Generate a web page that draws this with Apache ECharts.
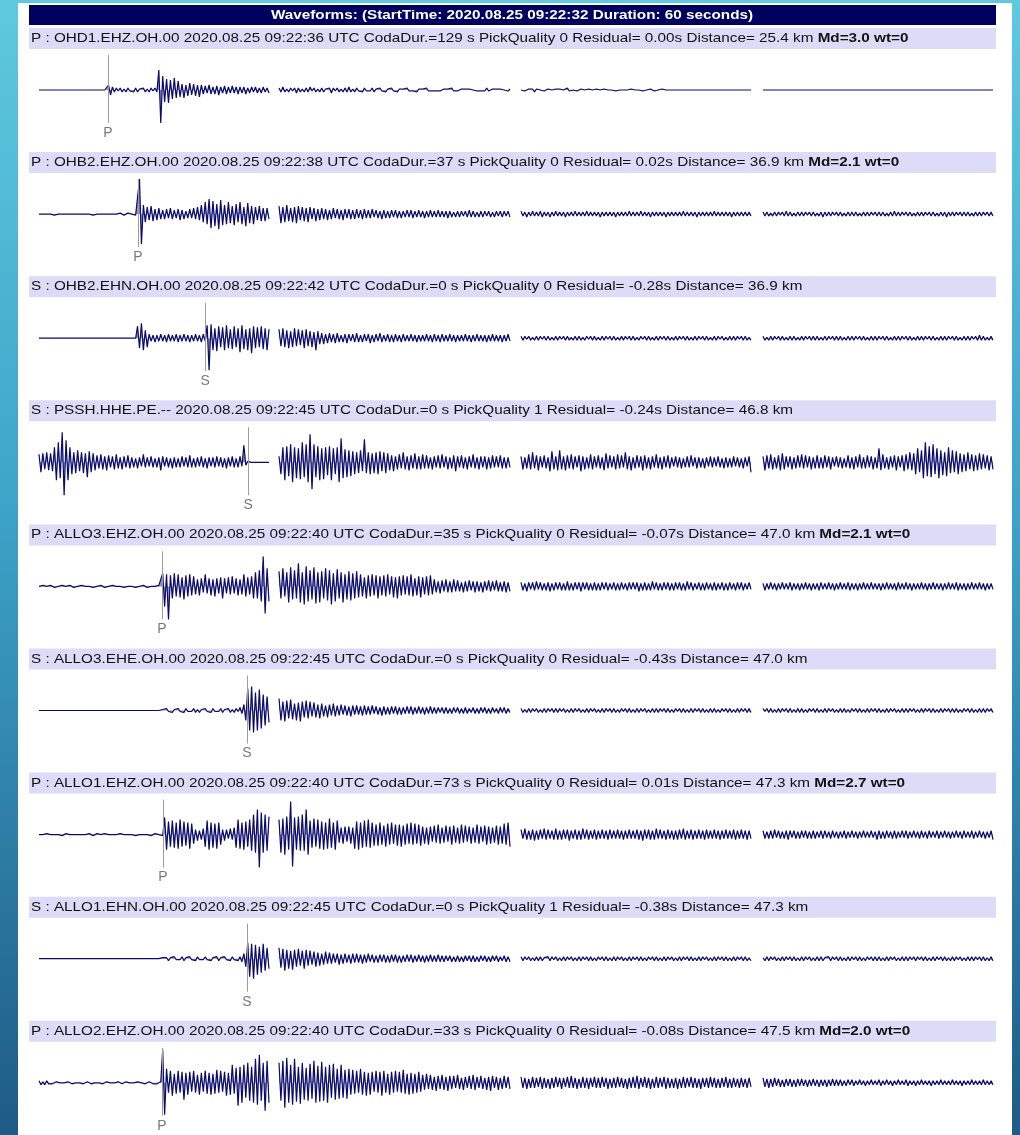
<!DOCTYPE html>
<html>
<head>
<meta charset="utf-8">
<script src="https://cdn.jsdelivr.net/npm/echarts@6/dist/echarts.min.js"></script>
<style>
  html, body { margin: 0; padding: 0; width: 1020px; height: 1135px; overflow: hidden; }
  #chart { width: 1020px; height: 1135px; }
</style>
</head>
<body>
<div id="chart"></div>
<script>
// Event waveform review: 60 s window, nine picked channels.
const START_DATE = '2020.08.25';
const START_CLOCK = '09:22:32';
const DURATION = 60;          // seconds
const DT = 0.125;             // sample interval, seconds
const PANEL_SECONDS = 15;     // each trace is drawn as four 15 s panels

const channels   = ['OHD1.EHZ.OH.00', 'OHB2.EHZ.OH.00', 'OHB2.EHN.OH.00', 'PSSH.HHE.PE.--', 'ALLO3.EHZ.OH.00',
                    'ALLO3.EHE.OH.00', 'ALLO1.EHZ.OH.00', 'ALLO1.EHN.OH.00', 'ALLO2.EHZ.OH.00'];
const phases     = ['P', 'P', 'S', 'S', 'P', 'S', 'P', 'S', 'P'];
const pickClock  = ['09:22:36', '09:22:38', '09:22:42', '09:22:45', '09:22:40', '09:22:45', '09:22:40', '09:22:45', '09:22:40'];
const codaDur    = [129, 37, 0, 0, 35, 0, 73, 0, 33];
const pickQual   = [0, 0, 0, 1, 0, 0, 0, 1, 0];
const residuals  = ['0.00', '0.02', '-0.28', '-0.24', '-0.07', '-0.43', '0.01', '-0.38', '-0.08'];
const distances  = ['25.4', '36.9', '36.9', '46.8', '47.0', '47.0', '47.3', '47.3', '47.5'];
const magnitudes = ['3.0', '2.1', null, null, '2.1', null, '2.7', null, '2.0'];
// pick times in seconds after window start
const pickTimes  = [4.46, 6.40, 10.74, 13.52, 7.95, 13.45, 8.02, 13.45, 7.95];

// Trace samples (relative amplitude), DT apart, 480 per channel (120 per panel)
const OHD1_EHZ = [
  0,0,0,0,0,0,0,0,0,0,0,0,0,0,0,0,0,0,0,0,0,0,0,0,0,0,0,0,0,0,0,0,0,0,0,0,5,-5,3,-2,
  2,-1,2,-2,1,-2,2,-1,1,-2,2,-2,1,-1,2,-2,1,-2,2,-1,2,-2,20,-33,14,-12,11,-13,10,-9,12,-8,9,-7,6,-8,5,-6,7,-5,
  6,-6,5,-7,5,-4,4,-3,5,-4,3,-4,4,-5,3,-3,4,-4,3,-3,4,-3,3,-4,3,-3,3,-4,2,-3,3,-2,3,-3,2,-3,3,-2,2,-3,
  2,-2,3,-2,1,-2,2,-1,2,-3,2,-2,1,-2,2,-2,3,-1,2,-2,1,-2,2,-2,1,-1,2,-3,2,-1,2,-2,1,-2,2,-2,3,-2,1,-2,
  2,-1,1,-2,2,-1,1,-1,2,-2,1,-1,2,-1,1,-2,1,-1,2,-1,1,-2,1,-1,1,-1,2,-1,1,-1,1,-2,1,-1,1,-1,2,-1,1,-1,
  1,-1,1,-1,0,1,-1,1,-1,2,-1,1,-1,0,1,-1,1,-1,1,-1,0,1,-1,1,-1,1,-1,2,-1,0,1,-1,1,-1,1,-1,0,1,-1,1,
  0,1,-1,0,1,-1,1,-2,1,0,0,1,-1,0,1,-1,0,0,1,-1,1,-1,0,0,2,-1,0,0,1,-1,0,1,-1,0,0,1,-1,0,0,1,
  -1,0,0,1,-1,0,0,0,1,-1,0,0,1,0,-1,0,0,1,-1,0,0,0,1,-1,0,0,0,1,0,-1,0,0,0,1,0,0,-1,0,0,0,
  0,0,0,0,0,0,0,0,0,0,0,0,0,0,0,0,0,0,0,0,0,0,0,0,0,0,0,0,0,0,0,0,0,0,0,0,0,0,0,0,
  0,0,0,0,0,0,0,0,0,0,0,0,0,0,0,0,0,0,0,0,0,0,0,0,0,0,0,0,0,0,0,0,0,0,0,0,0,0,0,0,
  0,0,0,0,0,0,0,0,0,0,0,0,0,0,0,0,0,0,0,0,0,0,0,0,0,0,0,0,0,0,0,0,0,0,0,0,0,0,0,0,
  0,0,0,0,0,0,0,0,0,0,0,0,0,0,0,0,0,0,0,0,0,0,0,0,0,0,0,0,0,0,0,0,0,0,0,0,0,0,0,0
];
const OHB2_EHZ = [
  0,0,0,0,0,0,0,1,-1,0,0,0,0,0,0,0,0,0,0,0,0,0,0,0,0,0,0,1,-1,0,0,0,0,0,0,0,0,0,0,0,
  0,0,1,0,-1,0,1,-1,0,1,-1,1,35,-30,9,-8,7,-6,8,-7,5,-6,6,-5,4,-5,5,-4,6,-5,4,-4,5,-6,4,-5,3,-4,5,-4,
  6,-5,7,-6,9,-8,12,-10,15,-14,13,-12,10,-15,14,-11,9,-10,12,-9,8,-11,10,-8,12,-10,7,-12,11,-9,8,-10,7,-6,8,-7,6,-7,6,-5,
  8,-9,7,-8,9,-7,6,-8,7,-9,8,-6,7,-7,6,-8,7,-5,6,-7,5,-6,6,-5,5,-6,4,-5,6,-4,5,-5,4,-6,5,-4,5,-5,4,-5,
  5,-4,4,-5,5,-4,4,-4,5,-3,4,-4,3,-5,4,-4,3,-4,4,-3,4,-4,3,-4,3,-3,4,-3,4,-4,3,-3,4,-3,3,-4,3,-3,4,-3,
  3,-3,4,-3,3,-3,3,-4,3,-3,2,-3,3,-3,3,-2,3,-3,4,-3,3,-3,2,-3,3,-3,3,-2,3,-3,2,-3,3,-2,3,-3,3,-2,3,-3,
  3,-2,2,-3,2,-2,3,-2,2,-2,3,-3,2,-2,2,-3,2,-2,3,-2,2,-2,2,-3,2,-2,2,-2,3,-2,2,-2,2,-2,3,-2,2,-2,2,-2,
  2,-3,2,-2,2,-2,2,-2,2,-3,2,-2,2,-2,2,-2,3,-2,2,-2,2,-2,3,-2,2,-2,2,-3,2,-2,2,-2,2,-2,2,-3,2,-2,2,-2,
  2,-2,2,-2,3,-2,2,-2,2,-2,2,-3,2,-2,2,-2,2,-2,2,-2,3,-2,2,-2,2,-2,2,-2,2,-3,2,-2,2,-2,2,-2,2,-2,2,-2,
  2,-2,2,-2,1,-2,2,-2,2,-1,2,-2,3,-2,2,-2,1,-2,2,-2,2,-2,2,-1,2,-2,2,-2,1,-2,2,-3,2,-2,2,-2,2,-1,2,-2,
  2,-2,1,-2,2,-2,2,-2,2,-2,1,-2,2,-2,2,-2,2,-1,2,-2,2,-2,2,-2,1,-2,2,-2,3,-2,2,-2,2,-1,2,-2,2,-2,1,-2,
  2,-2,2,-2,2,-1,2,-2,2,-2,1,-2,2,-2,2,-3,2,-2,2,-2,2,-1,2,-2,2,-2,2,-2,1,-2,2,-2,2,-2,2,-1,2,-2,2,-2
];
const OHB2_EHN = [
  0,0,0,0,0,0,0,0,0,0,0,0,0,0,0,0,0,0,0,0,0,0,0,0,0,0,0,0,0,0,0,0,0,0,0,0,0,0,0,0,
  0,0,0,0,0,0,0,0,0,0,0,12,-10,15,-12,8,-9,4,-3,3,-4,3,-3,4,-3,3,-4,4,-3,3,-3,4,-4,3,-3,4,-3,3,-4,3,
  -3,4,-3,3,-4,4,-3,13,-32,14,-12,10,-13,12,-9,11,-12,13,-10,9,-11,12,-9,10,-14,13,-11,9,-12,10,-15,12,-10,11,-9,12,-11,10,-12,9,
  9,-8,10,-9,8,-10,7,-9,10,-8,9,-7,8,-10,9,-8,7,-9,6,-12,7,-6,5,-6,4,-5,5,-4,4,-5,5,-4,3,-4,4,-5,4,-3,4,-4,
  5,-4,3,-4,4,-3,4,-5,3,-4,4,-3,5,-4,3,-3,4,-4,3,-4,4,-3,3,-4,4,-3,3,-3,4,-3,3,-4,3,-3,3,-3,4,-3,3,-4,
  4,-3,3,-4,4,-3,3,-3,4,-3,3,-4,3,-3,3,-3,4,-3,3,-4,3,-3,4,-3,3,-3,3,-4,3,-3,4,-3,3,-3,3,-4,3,-3,4,-3,
  2,-2,2,-1,2,-2,1,-2,2,-2,2,-1,2,-2,2,-2,1,-2,2,-2,2,-1,2,-2,2,-2,1,-2,2,-2,2,-2,1,-2,2,-1,2,-2,2,-2,
  1,-2,2,-2,2,-1,2,-2,2,-2,1,-2,2,-2,2,-1,2,-2,2,-2,1,-2,2,-1,2,-2,2,-2,1,-2,2,-2,2,-1,2,-2,2,-2,1,-2,
  2,-2,2,-1,2,-2,2,-2,1,-2,2,-2,2,-1,2,-2,2,-2,1,-2,2,-2,2,-1,2,-2,1,-2,2,-2,2,-2,2,-1,2,-2,2,-2,1,-2,
  2,-2,1,-2,2,-2,2,-1,2,-2,2,-2,1,-2,2,-2,2,-2,1,-2,2,-2,2,-1,2,-2,2,-2,2,-2,1,-2,2,-2,2,-1,2,-2,2,-2,
  2,-2,1,-2,2,-2,2,-2,2,-1,2,-2,2,-2,1,-2,2,-2,2,-2,2,-1,2,-2,2,-2,1,-2,2,-2,2,-2,2,-1,2,-2,2,-2,1,-2,
  2,-2,2,-2,2,-1,2,-2,2,-2,1,-2,2,-2,2,-2,2,-1,2,-2,2,-2,1,-2,2,-2,2,-2,2,-1,2,-2,3,-2,2,-2,1,-2,2,-2
];
const PSSH_HHE = [
  8,-10,9,-7,10,-8,9,-9,15,-18,20,-16,30,-33,22,-18,15,-12,10,-11,12,-9,10,-11,9,-15,11,-10,9,-8,7,-6,8,-7,6,-8,7,-5,6,-7,
  8,-6,5,-7,6,-5,7,-6,5,-5,4,-6,5,-4,8,-5,5,-4,6,-5,4,-5,5,-8,6,-4,5,-5,4,-6,5,-5,4,-5,6,-4,5,-5,7,-5,
  4,-5,5,-4,6,-5,4,-6,5,-4,5,-5,6,-4,5,-5,4,-6,5,-4,6,-5,4,-5,6,-4,17,-3,1,0,0,0,0,0,0,0,0,0,0,0,
  6,-12,15,-18,16,-14,18,-20,15,-16,14,-17,20,-15,18,-20,28,-27,18,-15,16,-18,14,-17,15,-13,16,-18,14,-12,15,-20,24,-16,13,-15,12,-14,11,-12,
  10,-11,12,-9,23,-11,10,-12,9,-11,10,-12,11,-9,10,-11,9,-8,7,-9,6,-7,8,-6,10,-7,6,-8,7,-6,9,-7,6,-7,8,-6,7,-6,5,-7,
  6,-5,7,-6,8,-5,6,-7,5,-6,7,-9,6,-5,7,-6,5,-7,6,-5,8,-6,5,-7,6,-5,6,-7,5,-6,7,-5,6,-5,7,-6,5,-6,5,-5,
  6,-7,5,-6,8,-7,10,-6,7,-8,6,-5,7,-6,5,-9,11,-7,6,-8,12,-7,6,-8,7,-6,8,-7,6,-5,7,-9,6,-7,5,-6,8,-7,6,-5,
  7,-6,5,-8,9,-6,7,-5,6,-7,8,-6,7,-5,10,-7,6,-8,5,-6,7,-5,6,-8,7,-6,5,-7,6,-5,8,-6,5,-7,6,-5,7,-6,5,-4,
  6,-5,5,-6,4,-5,6,-5,7,-4,5,-6,5,-5,4,-6,5,-4,6,-5,5,-4,6,-5,4,-6,5,-5,4,-5,6,-4,5,-5,4,-6,5,-4,6,-10,
  6,-8,7,-6,8,-7,5,-6,7,-8,9,-7,6,-5,6,-7,5,-6,7,-5,8,-6,7,-5,6,-7,5,-6,7,-6,5,-6,7,-5,6,-7,5,-4,6,-5,
  5,-6,4,-5,7,-6,5,-7,6,-5,8,-6,5,-6,7,-5,6,-7,5,-6,14,-8,8,-6,5,-7,6,-5,7,-8,6,-5,7,-9,8,-7,10,-8,9,-12,
  14,-10,12,-16,20,-14,16,-15,18,-12,14,-16,12,-13,10,-14,15,-11,12,-10,11,-12,9,-10,8,-9,10,-7,8,-9,7,-8,9,-7,8,-6,7,-8,6,-7
];
const ALLO3_EHZ = [
  0,0,1,-1,0,0,1,0,-1,0,0,0,1,-1,0,0,1,0,-1,0,0,0,1,-1,0,0,0,1,-1,0,0,0,1,0,-1,0,0,0,1,-1,
  0,0,0,1,-1,0,0,0,0,1,-1,0,0,0,1,0,-1,0,0,0,0,0,1,-1,13,-20,12,-33,11,-12,13,-10,12,-11,9,-13,11,-10,12,-9,
  10,-8,7,-9,8,-6,12,-7,8,-9,7,-10,8,-7,9,-12,8,-7,9,-8,10,-7,8,-9,7,-8,12,-10,9,-8,10,-12,14,-12,16,-15,30,-27,18,-15,
  15,-12,18,-10,14,-16,19,-13,16,-12,23,-16,14,-18,20,-15,16,-13,19,-17,14,-16,15,-12,18,-14,16,-18,13,-15,17,-12,14,-16,12,-13,15,-14,13,-12,
  15,-11,12,-10,9,-12,11,-10,12,-9,11,-12,10,-9,11,-10,12,-8,10,-11,9,-12,10,-9,11,-8,10,-9,12,-10,8,-9,10,-11,9,-8,10,-9,11,-8,
  7,-6,5,-7,6,-5,7,-6,5,-6,7,-5,6,-5,4,-6,5,-5,6,-4,5,-6,5,-5,4,-6,5,-4,6,-5,5,-4,6,-5,4,-5,5,-6,4,-5,
  4,-4,3,-5,4,-3,4,-4,5,-3,4,-4,3,-4,4,-5,3,-4,4,-3,4,-4,3,-4,5,-4,3,-4,4,-3,4,-5,4,-3,4,-4,3,-4,4,-4,
  3,-4,4,-3,4,-4,3,-3,4,-4,3,-4,4,-3,3,-4,4,-3,4,-3,4,-5,3,-4,4,-4,3,-4,5,-3,4,-4,3,-4,4,-3,4,-4,3,-4,
  4,-3,4,-4,3,-4,5,-3,4,-4,3,-3,4,-4,3,-4,4,-3,3,-4,4,-4,3,-3,4,-4,3,-4,4,-3,3,-4,4,-3,4,-4,3,-3,4,-3,
  3,-4,3,-3,4,-3,3,-4,3,-3,4,-3,3,-3,4,-4,3,-3,3,-4,3,-3,4,-3,3,-4,3,-3,3,-4,4,-3,3,-3,4,-3,3,-4,3,-3,
  4,-3,3,-3,4,-4,3,-3,3,-4,3,-3,4,-3,3,-3,4,-3,3,-3,3,-4,3,-3,4,-3,3,-3,3,-4,4,-3,3,-3,4,-3,3,-4,3,-3,
  3,-3,4,-3,3,-4,3,-3,4,-3,3,-3,3,-4,3,-3,4,-3,3,-3,4,-4,3,-3,3,-4,3,-3,4,-3,3,-3,4,-3,3,-4,3,-3,3,-3
];
const ALLO3_EHE = [
  0,0,0,0,0,0,0,0,0,0,0,0,0,0,0,0,0,0,0,0,0,0,0,0,0,0,0,0,0,0,0,0,0,0,0,0,0,0,0,0,
  0,0,0,0,0,0,0,0,0,0,0,0,0,0,0,0,0,0,0,0,0,0,0,0,1,-1,2,-1,1,-2,1,-1,2,-1,1,-2,2,-1,1,-1,
  2,-2,1,-2,1,-1,2,-1,1,-2,2,-1,1,-1,2,-2,1,-1,2,-2,1,-2,2,-1,3,-3,6,-10,22,-20,24,-22,18,-20,21,-18,16,-15,14,-12,
  12,-10,9,-11,10,-8,11,-9,7,-10,8,-11,9,-7,10,-8,9,-6,8,-7,6,-8,7,-6,5,-7,6,-5,7,-6,5,-5,6,-4,5,-5,4,-6,5,-4,
  5,-4,4,-5,5,-4,4,-4,5,-3,4,-4,3,-5,4,-4,3,-4,4,-3,4,-4,3,-4,3,-3,4,-3,4,-4,3,-3,4,-3,3,-4,3,-3,4,-3,
  3,-3,3,-2,3,-3,3,-3,2,-3,3,-2,3,-3,2,-3,3,-3,2,-2,3,-3,2,-3,3,-2,3,-3,2,-3,3,-2,2,-3,3,-2,3,-3,2,-2,
  2,-2,1,-2,2,-2,2,-1,2,-2,1,-2,2,-2,2,-1,2,-2,2,-2,2,-1,2,-2,1,-2,2,-2,2,-1,2,-2,1,-2,2,-2,2,-1,2,-2,
  1,-2,2,-2,2,-1,2,-2,2,-2,1,-2,2,-1,2,-2,2,-2,1,-2,2,-2,2,-1,2,-2,1,-2,2,-2,2,-2,2,-1,2,-2,2,-2,1,-2,
  2,-1,2,-2,2,-2,1,-2,2,-2,2,-1,2,-2,2,-2,1,-2,2,-2,2,-2,1,-2,2,-1,2,-2,2,-2,1,-2,2,-2,2,-1,2,-2,2,-2,
  2,-1,2,-2,2,-2,1,-2,2,-2,2,-1,2,-2,2,-2,1,-2,2,-2,2,-2,1,-2,2,-1,2,-2,2,-2,1,-2,2,-2,2,-1,2,-2,1,-2,
  2,-2,2,-2,1,-2,2,-1,2,-2,2,-2,1,-2,2,-2,2,-1,2,-2,2,-2,1,-2,2,-2,2,-1,2,-2,1,-2,2,-2,2,-2,2,-1,2,-2,
  1,-2,2,-2,2,-1,2,-2,2,-2,1,-2,2,-2,2,-1,2,-2,2,-2,2,-2,1,-2,2,-1,2,-2,2,-2,1,-2,2,-2,2,-2,2,-1,2,-2
];
const ALLO1_EHZ = [
  0,1,0,-1,1,0,0,-1,0,1,0,0,-1,0,1,-1,0,1,0,-1,0,1,0,-1,0,0,1,0,-1,0,1,0,0,-1,1,0,0,-1,0,1,
  0,-1,1,0,0,-1,0,1,0,0,-1,1,0,-1,0,1,0,0,-1,0,1,-1,0,1,-1,17,-15,13,-12,14,-13,12,-14,15,-12,13,-11,12,-14,11,
  -9,5,-6,4,-5,6,-12,14,-15,12,-13,11,-14,12,-10,5,-6,5,-4,6,-5,7,-13,15,-14,12,-15,13,-12,15,-16,20,-18,25,-33,22,-18,20,-16,18,
  15,-18,16,-20,18,-15,33,-32,17,-15,18,-16,20,-16,25,-20,14,-13,16,-12,15,-14,13,-15,12,-14,16,-13,12,-15,14,-8,7,-9,8,-7,8,-9,7,-14,
  13,-15,12,-13,14,-12,15,-13,12,-11,10,-11,12,-10,9,-12,11,-10,12,-9,10,-11,10,-12,9,-10,11,-9,12,-10,11,-9,10,-11,8,-9,7,-10,8,-7,
  9,-8,10,-9,7,-8,9,-7,8,-10,9,-8,7,-9,10,-8,9,-7,8,-9,7,-8,10,-9,8,-7,9,-10,8,-9,7,-8,9,-10,8,-9,11,-10,12,-12,
  5,-4,6,-5,4,-5,5,-6,4,-5,5,-4,6,-5,5,-4,4,-5,6,-5,4,-5,5,-4,5,-6,4,-4,5,-5,4,-5,6,-4,5,-5,4,-4,5,-5,
  4,-4,5,-4,4,-5,5,-4,4,-4,5,-4,4,-5,4,-4,5,-4,4,-4,5,-5,4,-6,5,-4,5,-5,4,-5,6,-4,5,-4,4,-5,5,-4,4,-5,
  4,-5,5,-4,6,-5,4,-4,5,-5,4,-4,5,-4,4,-5,5,-4,4,-4,5,-4,4,-5,4,-4,5,-4,4,-4,5,-5,4,-4,5,-4,4,-5,4,-4,
  4,-4,3,-4,4,-4,5,-3,4,-4,3,-4,4,-5,4,-3,4,-4,3,-4,4,-3,4,-4,3,-4,4,-4,3,-3,4,-4,4,-3,3,-4,4,-3,3,-4,
  3,-3,4,-4,3,-3,4,-3,3,-4,3,-3,4,-3,3,-3,4,-3,3,-5,4,-4,3,-4,4,-3,3,-4,4,-4,3,-3,4,-3,4,-4,3,-3,4,-3,
  3,-4,4,-3,3,-4,4,-3,3,-3,4,-4,3,-3,4,-3,3,-4,3,-3,4,-3,3,-4,4,-3,3,-3,4,-4,3,-3,4,-3,3,-4,3,-3,4,-5
];
const ALLO1_EHN = [
  0,0,0,0,0,0,0,0,0,0,0,0,0,0,0,0,0,0,0,0,0,0,0,0,0,0,0,0,0,0,0,0,0,0,0,0,0,0,0,0,
  0,0,0,0,0,0,0,0,0,0,0,0,0,0,0,0,0,0,0,0,0,0,0,0,1,-1,1,-2,1,-1,2,-1,1,-1,2,-2,1,-1,2,-1,
  1,-2,2,-1,1,-1,2,-1,1,-2,1,-1,2,-2,1,-1,2,-1,1,-2,2,-1,1,-2,2,-3,5,-8,16,-18,15,-20,14,-16,12,-14,15,-12,11,-10,
  11,-9,10,-12,9,-10,8,-11,9,-8,10,-7,8,-10,9,-7,8,-6,7,-8,6,-7,5,-6,7,-5,6,-5,5,-4,5,-6,4,-5,5,-4,4,-5,5,-4,
  5,-4,4,-5,4,-4,5,-3,4,-4,3,-4,4,-3,4,-4,3,-4,4,-3,4,-4,3,-4,3,-3,4,-3,4,-4,3,-3,4,-3,3,-4,3,-3,4,-3,
  3,-3,4,-3,3,-3,3,-2,3,-3,2,-3,3,-3,2,-3,3,-2,3,-3,3,-3,2,-3,3,-2,3,-3,2,-3,3,-2,3,-3,2,-2,3,-3,2,-3,
  2,-2,2,-1,2,-2,1,-2,2,-2,2,-2,1,-1,2,-2,2,-1,2,-2,1,-2,2,-2,2,-1,2,-2,1,-2,2,-2,2,-1,2,-2,2,-2,1,-2,
  2,-1,2,-2,2,-2,1,-2,2,-2,2,-1,2,-2,1,-2,2,-2,2,-1,2,-2,2,-2,1,-2,2,-1,2,-2,2,-2,1,-2,2,-2,2,-1,2,-2,
  1,-2,2,-2,2,-1,2,-2,2,-2,1,-2,2,-2,2,-1,2,-2,1,-2,2,-2,2,-1,2,-2,2,-2,1,-2,2,-2,2,-1,2,-2,2,-2,1,-2,
  1,-2,2,-2,2,-1,2,-2,1,-2,2,-2,2,-1,2,-2,2,-2,1,-2,2,-2,2,-1,2,-2,1,-2,2,-2,2,-2,1,-1,2,-2,2,-1,2,-2,
  2,-2,1,-2,2,-2,2,-1,2,-2,2,-2,1,-2,2,-1,2,-2,2,-2,2,-2,1,-2,2,-2,2,-1,2,-2,1,-2,2,-2,2,-2,2,-1,2,-2,
  2,-1,2,-2,2,-2,1,-2,2,-2,2,-1,2,-2,2,-2,1,-2,2,-2,2,-1,2,-2,1,-2,2,-2,2,-2,2,-1,2,-2,2,-2,1,-2,2,-2
];
const ALLO2_EHZ = [
  2,-2,1,-2,2,-1,1,-1,0,1,-1,0,1,0,-1,1,0,-1,1,0,-1,0,1,-1,0,1,0,-1,1,0,-1,0,1,-1,0,1,-1,0,1,0,
  -1,1,0,-1,0,1,-1,0,1,0,-1,1,-1,0,1,-1,0,1,0,-1,1,-1,0,1,33,-32,14,-10,12,-13,9,-11,12,-10,11,-17,10,-12,11,-9,
  12,-10,8,-12,10,-9,12,-11,10,-12,9,-11,13,-10,12,-9,11,-13,10,-12,18,-11,15,-23,16,-20,18,-15,20,-18,16,-20,24,-22,28,-18,20,-28,22,-20,
  20,-18,22,-25,25,-20,18,-22,24,-19,16,-21,20,-17,15,-18,19,-16,22,-20,17,-19,21,-18,16,-20,18,-15,19,-17,14,-16,18,-15,13,-16,14,-12,13,-11,
  12,-10,14,-12,11,-13,10,-12,11,-9,12,-10,11,-13,12,-10,9,-12,11,-10,12,-9,11,-10,13,-11,9,-12,10,-11,9,-10,11,-9,8,-7,9,-6,
  8,-7,6,-8,7,-6,8,-7,6,-8,7,-6,7,-5,8,-6,5,-7,6,-5,7,-6,8,-7,6,-5,7,-6,5,-7,6,-8,7,-5,6,-7,5,-6,7,-5,6,-6,
  6,-5,5,-6,4,-5,6,-5,5,-4,6,-6,5,-5,4,-6,5,-5,6,-4,5,-6,5,-4,6,-5,7,-5,5,-6,4,-5,6,-5,5,-6,5,-4,6,-5,
  5,-5,6,-4,5,-6,4,-5,5,-5,6,-4,5,-5,4,-6,5,-5,6,-5,7,-6,5,-4,6,-5,5,-6,4,-5,6,-5,5,-4,6,-6,5,-5,4,-5,
  5,-6,4,-5,6,-5,5,-4,6,-5,5,-5,4,-6,5,-4,5,-5,6,-4,5,-5,4,-5,5,-4,6,-5,4,-5,5,-4,4,-5,5,-4,4,-5,5,-4,
  5,-4,4,-5,4,-4,5,-3,4,-4,3,-4,4,-3,4,-4,3,-4,4,-3,4,-3,3,-4,3,-3,4,-3,3,-4,3,-3,3,-4,3,-3,4,-3,3,-3,
  3,-3,2,-3,3,-2,3,-3,2,-2,3,-2,2,-3,2,-2,3,-2,2,-2,3,-3,2,-2,3,-2,2,-3,2,-2,3,-2,2,-2,3,-3,2,-2,2,-3,
  2,-2,3,-2,2,-2,2,-3,2,-2,2,-2,3,-2,2,-2,2,-2,3,-2,2,-2,2,-3,2,-2,2,-2,3,-2,2,-2,2,-2,3,-2,2,-2,2,-2
];
const traces = [OHD1_EHZ, OHB2_EHZ, OHB2_EHN, PSSH_HHE, ALLO3_EHZ, ALLO3_EHE, ALLO1_EHZ, ALLO1_EHN, ALLO2_EHZ];

// ---- layout ----
const FONT = '"Liberation Sans", Arial, Helvetica, sans-serif';
const TEXT_STRETCH = 1.175; // header lettering is set slightly wide
const WAVE_COLOR = '#0b0b6b';
const PANEL_LEFT  = [39, 279, 521, 763];
const PANEL_WIDTH = [230, 231, 230, 230];
const FIRST_BASE = 90;      // baseline of first trace (px)
const ROW_STEP = 124.1;     // vertical spacing between traces (px)
const AMP_UP = 35, AMP_DOWN = 33;  // visible amplitude range above/below baseline

const nPanels = DURATION / PANEL_SECONDS;
const perPanel = Math.round(PANEL_SECONDS / DT);

const grids = [], xAxes = [], yAxes = [], series = [];
const graphics = [
  { type: 'rect', shape: { x: 18, y: 3, width: 994, height: 1140 }, style: { fill: '#ffffff' }, z: 0 },
  { type: 'rect', shape: { x: 29, y: 5, width: 967, height: 20 }, style: { fill: '#00005f' }, z: 1 },
  { type: 'text', x: 512, y: 15, z: 2, scaleX: TEXT_STRETCH,
    style: { text: `Waveforms: (StartTime: ${START_DATE} ${START_CLOCK} Duration: ${DURATION} seconds)`,
             fill: '#ffffff', fontSize: 13, fontWeight: 'bold', fontFamily: FONT,
             align: 'center', verticalAlign: 'middle' } }
];

traces.forEach((samples, r) => {
  const base = FIRST_BASE + r * ROW_STEP;

  // header band with pick information
  let header = `${phases[r]} : ${channels[r]} ${START_DATE} ${pickClock[r]} UTC CodaDur.=${codaDur[r]} s ` +
               `PickQuality ${pickQual[r]} Residual= ${residuals[r]}s Distance= ${distances[r]} km`;
  if (magnitudes[r]) header += ` {b|Md=${magnitudes[r]} wt=0}`;
  graphics.push({ type: 'rect', shape: { x: 29, y: base - 62, width: 967, height: 21 },
                  style: { fill: '#dcdcf8' }, z: 1 });
  graphics.push({ type: 'text', x: 31, y: base - 51.5, z: 2, scaleX: TEXT_STRETCH,
                  style: { text: header, fill: '#111111', fontSize: 13, fontFamily: FONT,
                           verticalAlign: 'middle',
                           rich: { b: { fontWeight: 'bold', fontSize: 13, fontFamily: FONT, fill: '#111111' } } } });

  for (let k = 0; k < nPanels; k++) {
    const idx = grids.length;
    const t0 = k * PANEL_SECONDS;
    grids.push({ left: PANEL_LEFT[k], width: PANEL_WIDTH[k], top: base - AMP_UP, height: AMP_UP + AMP_DOWN });
    xAxes.push({ gridIndex: idx, type: 'value', min: t0, max: t0 + PANEL_SECONDS - DT, show: false });
    yAxes.push({ gridIndex: idx, type: 'value', min: -AMP_DOWN, max: AMP_UP, show: false });

    const data = samples.slice(k * perPanel, (k + 1) * perPanel).map((v, j) => [t0 + j * DT, v]);
    const s = {
      type: 'line', xAxisIndex: idx, yAxisIndex: idx, data,
      showSymbol: false, clip: false, silent: true, animation: false,
      lineStyle: { color: WAVE_COLOR, width: 1.2 },
      areaStyle: { color: WAVE_COLOR, opacity: 0.45, origin: 0 },
      z: 3
    };
    const tp = pickTimes[r];
    if (tp >= t0 && tp < t0 + PANEL_SECONDS) {
      s.markLine = {
        silent: true, animation: false, symbol: ['none', 'none'],
        lineStyle: { color: '#9c9c9c', width: 1, type: 'solid' },
        label: { show: true, position: 'start', formatter: phases[r], color: '#7a7a7a',
                 fontSize: 14, fontFamily: FONT, distance: 3 },
        data: [{ xAxis: tp }]
      };
    }
    series.push(s);
  }
});

const chart = echarts.init(document.getElementById('chart'), null, { renderer: 'canvas' });
chart.setOption({
  animation: false,
  backgroundColor: {
    type: 'linear', x: 0, y: 0, x2: 0, y2: 1,
    colorStops: [
      { offset: 0, color: '#5fc9de' },
      { offset: 0.45, color: '#3da3c8' },
      { offset: 1, color: '#1e5b86' }
    ]
  },
  grid: grids,
  xAxis: xAxes,
  yAxis: yAxes,
  series,
  graphic: graphics
});
</script>
</body>
</html>
